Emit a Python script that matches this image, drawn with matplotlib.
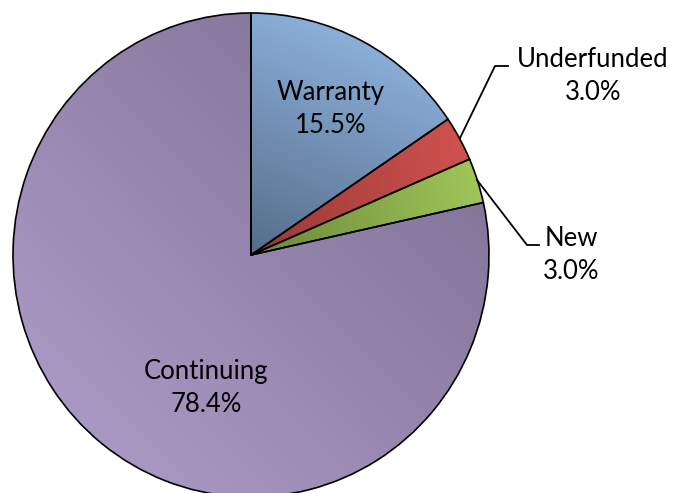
import numpy as np
import matplotlib
matplotlib.use('Agg')
import matplotlib.pyplot as plt
from matplotlib.colors import LinearSegmentedColormap

plt.rcParams['font.family'] = ['Lato', 'DejaVu Sans']

labels = ['Warranty', 'Underfunded', 'New', 'Continuing']
shares = [15.5, 3.0, 3.0, 78.4]
# (light colour, dark colour, gradient direction) for each slice
shades = [('#8cb0da', '#566d8a', (-0.4, -1.0)),
          ('#cf524f', '#983836', (-1.0, -0.3)),
          ('#a0c558', '#6b8739', (-1.0, -0.3)),
          ('#aa98c4', '#85769a', (1.0, 1.0))]

fig = plt.figure(figsize=(6.74, 4.93), dpi=100)
ax = fig.add_axes([0, 0, 1, 1])
ax.set_axis_off()

wedges, _ = ax.pie(shares, startangle=90, counterclock=False, radius=1,
                   wedgeprops=dict(facecolor='none', edgecolor='black', linewidth=1.2))

# linear gradient fill, clipped to each slice and stretched over its extent
yy, xx = np.mgrid[-1.05:1.05:400j, -1.05:1.05:400j]
for w, (light, dark, d) in zip(wedges, shades):
    d = np.array(d) / np.hypot(*d)
    v = w.get_path().vertices
    proj = v @ d
    t = (xx * d[0] + yy * d[1] - proj.min()) / (proj.max() - proj.min())
    cmap = LinearSegmentedColormap.from_list('g', [light, dark])
    im = ax.imshow(t, cmap=cmap, extent=(-1.05, 1.05, -1.05, 1.05), origin='lower',
                   vmin=0, vmax=1, zorder=0.5, interpolation='bilinear')
    im.set_clip_path(w)

# map data units to the 674x493 canvas: centre at (251, 255) px
rx, ry = 238, 242
ax.set_xlim(-251 / rx, (674 - 251) / rx)
ax.set_ylim(255 / ry - 493 / ry, 255 / ry)
ax.set_aspect('auto')

def px(x, y):
    return ((x - 251) / rx, (255 - y) / ry)

fs = 18.5
kw = dict(ha='center', va='center', fontsize=fs, linespacing=1.38)
ax.text(*px(331, 109), 'Warranty\n15.5%', **kw)
ax.text(*px(206, 388), 'Continuing\n78.4%', **kw)
ax.text(*px(593, 76), 'Underfunded\n3.0%', **kw)
ax.text(*px(571, 255), 'New\n3.0%', **kw)

# leader lines
for pts in ([(460, 138), (495, 66), (508, 66)], [(477, 180), (527, 245), (539, 245)]):
    xs, ys = zip(*[px(x, y) for x, y in pts])
    ax.plot(xs, ys, color='black', linewidth=1.3)

fig.savefig('out.png', dpi=100)
